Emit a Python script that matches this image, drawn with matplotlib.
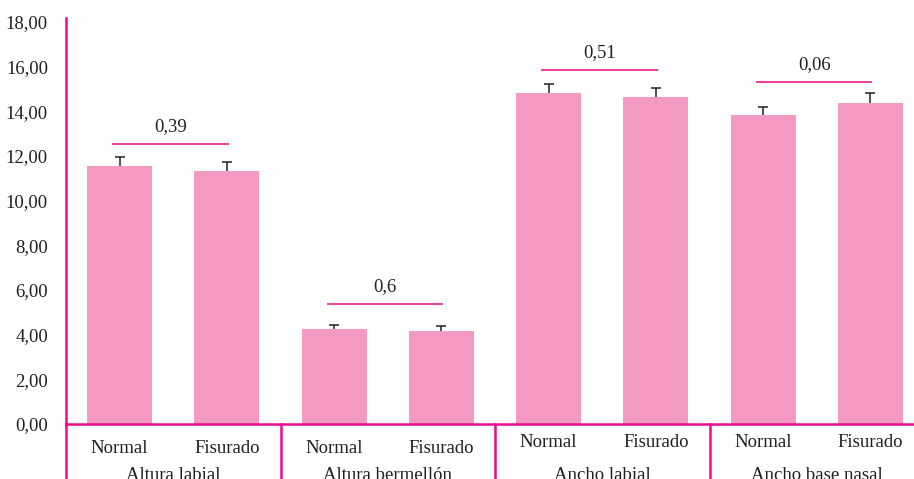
import matplotlib
matplotlib.use("Agg")
import matplotlib.pyplot as plt
import numpy as np

groups = ["Altura labial", "Altura bermellón", "Ancho labial", "Ancho base nasal"]
subgroups = ["Normal", "Fisurado"]
means = [11.55, 11.34, 4.25, 4.16, 14.82, 14.64, 13.84, 14.37]
errors = [0.39, 0.38, 0.17, 0.24, 0.39, 0.39, 0.36, 0.45]
pvalues = ["0,39", "0,6", "0,51", "0,06"]
p_line_heights = [12.54, 5.37, 15.85, 15.31]
yticks = [0, 2, 4, 6, 8, 10, 12, 14, 16, 18]
ytick_labels = ["0,00", "2,00", "4,00", "6,00", "8,00", "10,00", "12,00", "14,00", "16,00", "18,00"]

BAR = "#F49AC2"
MAG = "#EC0C8C"
SIG = "#EE3C9E"
TXT = "#231F20"

plt.rcParams['font.family'] = ['Liberation Serif', 'DejaVu Serif']
FS = 13.5

W, H = 914, 479
fig = plt.figure(figsize=(W/100, H/100), dpi=100)
ax = fig.add_axes([66/W, 55/H, 858/W, 406.5/H])

x = np.arange(len(means)) + 0.5
m = np.array(means)
e = np.array(errors)
ax.bar(x, m, width=0.606, color=BAR, zorder=2)
ax.vlines(x, m, m + e, color=TXT, lw=1.1, zorder=3)
ax.plot(x, m + e, ls='none', marker='_', ms=7, mew=1.1, color=TXT, zorder=3)

ax.set_xlim(0, 8)
ax.set_ylim(0, 18.2)
ax.set_yticks(yticks)
ax.set_yticklabels(ytick_labels, fontsize=FS, color=TXT)
ax.tick_params(axis='y', length=0, pad=13)
ax.set_xticks([])

for s in ['top', 'right']:
    ax.spines[s].set_visible(False)
ax.spines['left'].set_color(MAG)
ax.spines['bottom'].set_color(MAG)
ax.spines['left'].set_linewidth(1.8)
ax.spines['bottom'].set_linewidth(1.8)

trans = ax.get_xaxis_transform()
for g in range(5):
    ax.plot([2*g, 2*g], [0, -0.2], transform=trans, color=MAG, lw=1.8, clip_on=False)

sub_y = [-0.0713, -0.0713, -0.0566, -0.0566]
for g, name in enumerate(groups):
    for k, sname in enumerate(subgroups):
        ax.text(2*g + k + 0.5, sub_y[g], sname, transform=trans, ha='center',
                va='baseline', fontsize=FS, color=TXT)
    ax.text(2*g + 1, -0.1378, name, transform=trans, ha='center', va='baseline',
            fontsize=FS, color=TXT)
    h = p_line_heights[g]
    ax.plot([2*g + 0.44, 2*g + 1.51], [h, h], color=SIG, lw=1.4, zorder=3)
    ax.text(2*g + 0.975, h + 0.56, pvalues[g], ha='center', va='baseline',
            fontsize=FS, color=TXT)

fig.savefig("out.png", dpi=100)
